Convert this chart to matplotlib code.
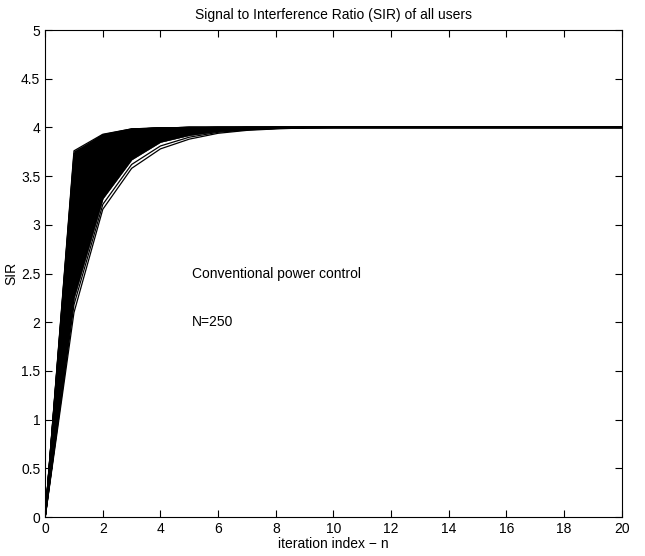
import numpy as np
import matplotlib
matplotlib.use("Agg")
import matplotlib.pyplot as plt

plt.rcParams['font.family'] = ['Liberation Sans', 'DejaVu Sans']

# SIR of a sample of users at iterations n=1..9, 0 at n=0, 4 after n=9
sir_n1 = [2.10, 2.18, 2.25, 2.35, 2.45, 2.55, 2.65, 2.75, 2.85, 2.95, 3.05, 3.15,
          3.22, 3.30, 3.38, 3.45, 3.50, 3.55, 3.60, 3.64, 3.68, 3.71, 3.73, 3.76]
sir_n2 = [3.16, 3.21, 3.27, 3.32, 3.40, 3.47, 3.53, 3.59, 3.65, 3.70, 3.74, 3.78,
          3.80, 3.83, 3.85, 3.87, 3.88, 3.89, 3.90, 3.91, 3.915, 3.92, 3.925, 3.93]
sir_n3 = [3.58, 3.62, 3.67, 3.71, 3.76, 3.80, 3.84, 3.87, 3.89, 3.91, 3.93, 3.94,
          3.95, 3.96, 3.965, 3.97, 3.97, 3.975, 3.975, 3.98, 3.98, 3.98, 3.985, 3.985]
sir_n4 = [3.78, 3.81, 3.85, 3.87, 3.90, 3.92, 3.94, 3.95, 3.96, 3.97, 3.975, 3.98,
          3.985, 3.985, 3.99, 3.99, 3.99, 3.99, 3.995, 3.995, 3.995, 3.995, 3.995, 3.995]
sir_n5 = [3.88, 3.90, 3.92, 3.94, 3.95, 3.96, 3.97, 3.98, 3.985, 3.99, 3.99, 3.99,
          3.995, 3.995, 3.995, 3.995, 4.0, 4.0, 4.0, 4.0, 4.0, 4.0, 4.0, 4.0]
sir_n6 = [3.94, 3.95, 3.96, 3.97, 3.975, 3.98, 3.985, 3.99, 3.99, 3.995, 3.995, 3.995,
          4.0, 4.0, 4.0, 4.0, 4.0, 4.0, 4.0, 4.0, 4.0, 4.0, 4.0, 4.0]
sir_n7 = [3.97, 3.975, 3.98, 3.985, 3.99, 3.99, 3.995, 3.995, 4.0, 4.0, 4.0, 4.0,
          4.0, 4.0, 4.0, 4.0, 4.0, 4.0, 4.0, 4.0, 4.0, 4.0, 4.0, 4.0]
sir_n8 = [3.985, 3.99, 3.99, 3.995, 3.995, 4.0, 4.0, 4.0, 4.0, 4.0, 4.0, 4.0,
          4.0, 4.0, 4.0, 4.0, 4.0, 4.0, 4.0, 4.0, 4.0, 4.0, 4.0, 4.0]
sir_n9 = [3.995, 3.995, 4.0, 4.0, 4.0, 4.0, 4.0, 4.0, 4.0, 4.0, 4.0, 4.0,
          4.0, 4.0, 4.0, 4.0, 4.0, 4.0, 4.0, 4.0, 4.0, 4.0, 4.0, 4.0]
target_sir = 4.0
n_max = 20
n_outliers = 2   # the slowest users, drawn apart from the dense band

iters = [sir_n1, sir_n2, sir_n3, sir_n4, sir_n5, sir_n6, sir_n7, sir_n8, sir_n9]
n = np.arange(n_max + 1)

curves = []
for k in range(len(sir_n1)):
    y = [0.0] + [it[k] for it in iters]
    y = y + [target_sir] * (len(n) - len(y))
    curves.append(y)
curves = np.array(curves)

fig = plt.figure(figsize=(6.45, 5.56), dpi=100)
ax = fig.add_axes([0.070, 0.070, 0.894, 0.876])

# 250 users overlap into a solid black band
band = curves[n_outliers:]
ax.fill_between(n, band.min(axis=0), band.max(axis=0), color="black", lw=0.3, edgecolor="black")
for y in curves:
    ax.plot(n, y, color="black", lw=0.9)

ax.set_xlim(0, 20)
ax.set_ylim(0, 5)
ax.set_xticks(np.arange(0, 21, 2))
ax.set_yticks(np.arange(0, 5.01, 0.5))
ax.set_yticklabels(["0", "0.5", "1", "1.5", "2", "2.5", "3", "3.5", "4", "4.5", "5"])
ax.tick_params(direction="in", top=True, right=True, labelsize=10, length=5, width=0.8)
for s in ax.spines.values():
    s.set_linewidth(0.8)

ax.set_title("Signal to Interference Ratio (SIR) of all users", fontsize=10, pad=8)
ax.set_xlabel("iteration index \u2212 n", fontsize=10, labelpad=1)
ax.set_ylabel("SIR", fontsize=10, labelpad=2)

ax.text(5.1, 2.5, "Conventional power control", fontsize=10, va="center")
ax.text(5.1, 2.0, "N=250", fontsize=10, va="center")

fig.savefig("out.png", dpi=100)
